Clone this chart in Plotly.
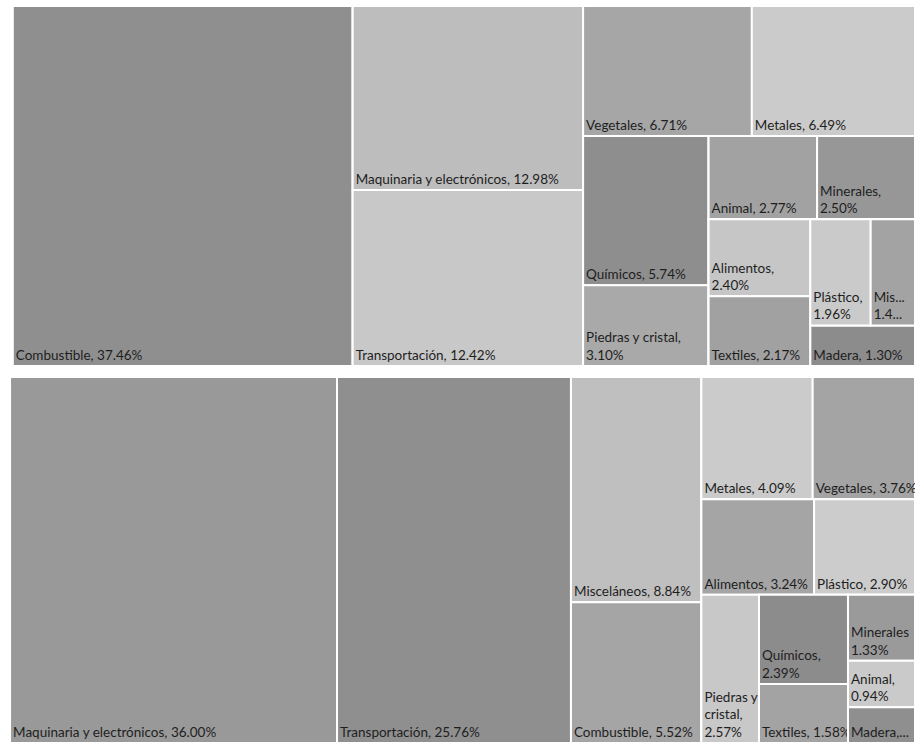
import plotly.graph_objects as go

# ---------------- Top treemap data ----------------
top_labels = ["Combustible", "Maquinaria y electrónicos", "Transportación", "Vegetales", "Metales",
              "Químicos", "Piedras y cristal", "Animal", "Minerales", "Alimentos", "Textiles",
              "Plástico", "Misceláneos", "Madera"]
top_values = [37.46, 12.98, 12.42, 6.71, 6.49, 5.74, 3.10, 2.77, 2.50, 2.40, 2.17, 1.96, 1.44, 1.30]
top_colors = ["#8f8f8f", "#bdbdbd", "#c8c8c8", "#a6a6a6", "#cbcbcb", "#8e8e8e", "#a9a9a9",
              "#a2a2a2", "#979797", "#c6c6c6", "#a1a1a1", "#cacaca", "#a3a3a3", "#8c8c8c"]
top_text = ["Combustible, 37.46%", "Maquinaria y electrónicos, 12.98%", "Transportación, 12.42%",
            "Vegetales, 6.71%", "Metales, 6.49%", "Químicos, 5.74%", "Piedras y cristal,<br>3.10%",
            "Animal, 2.77%", "Minerales,<br>2.50%", "Alimentos,<br>2.40%", "Textiles, 2.17%",
            "Plástico,<br>1.96%", "Mis...<br>1.4...", "Madera, 1.30%"]
# grouping of the tiles (block structure of the reference layout)
top_groups = ["T", "T2", "T3", "T3a", "T3b", "T3b1", "T3b2", "T3b2a", "T3b2b", "T3b2b1", "T3b2b2", "T3b2b2a"]
top_group_parents = ["", "T", "T", "T3", "T3", "T3b", "T3b", "T3b2", "T3b2", "T3b2b", "T3b2b", "T3b2b2"]
top_leaf_parents = ["T", "T2", "T2", "T3a", "T3a", "T3b1", "T3b1", "T3b2a", "T3b2a",
                    "T3b2b1", "T3b2b1", "T3b2b2a", "T3b2b2a", "T3b2b2"]

# ---------------- Bottom treemap data ----------------
bot_labels = ["Maquinaria y electrónicos", "Transportación", "Misceláneos", "Combustible", "Metales",
              "Vegetales", "Alimentos", "Plástico", "Piedras y cristal", "Químicos", "Textiles",
              "Minerales", "Animal", "Madera"]
bot_values = [36.00, 25.76, 8.84, 5.52, 4.09, 3.76, 3.24, 2.90, 2.57, 2.39, 1.58, 1.33, 0.94, 0.72]
bot_colors = ["#999999", "#8f8f8f", "#bfbfbf", "#a5a5a5", "#cbcbcb", "#a4a4a4", "#a5a5a5",
              "#cccccc", "#c8c8c8", "#8c8c8c", "#a3a3a3", "#9a9a9a", "#cacaca", "#8f8f8f"]
bot_text = ["Maquinaria y electrónicos, 36.00%", "Transportación, 25.76%", "Misceláneos, 8.84%",
            "Combustible, 5.52%", "Metales, 4.09%", "Vegetales, 3.76%", "Alimentos, 3.24%",
            "Plástico, 2.90%", "Piedras y<br>cristal,<br>2.57%", "Químicos,<br>2.39%",
            "Textiles, 1.58%", "Minerales<br>1.33%", "Animal,<br>0.94%", "Madera,..."]
bot_groups = ["B", "B3", "B4", "B4a", "B4b", "B4c", "B4c1", "B4c2"]
bot_group_parents = ["", "B", "B", "B4", "B4", "B4", "B4c", "B4c"]
bot_leaf_parents = ["B", "B", "B3", "B3", "B4a", "B4a", "B4b", "B4b", "B4c", "B4c1", "B4c1",
                    "B4c2", "B4c2", "B4c2"]


def ordered_nodes(labels, groups, group_parents, leaf_parents):
    """Depth-first node order; children ordered by their first leaf in the data lists."""
    parent_of = dict(zip(groups, group_parents))
    parent_of.update(dict(zip(labels, leaf_parents)))
    key = {lab: i for i, lab in enumerate(labels)}
    for i, lab in enumerate(labels):
        p = parent_of[lab]
        while p:
            key[p] = min(key.get(p, 1e9), i)
            p = parent_of[p]
    children = {}
    for n, p in parent_of.items():
        children.setdefault(p, []).append(n)
    out = []

    def visit(n):
        out.append(n)
        for c in sorted(children.get(n, []), key=lambda x: key[x]):
            visit(c)

    for r in sorted(children[""], key=lambda x: key[x]):
        visit(r)
    return out, parent_of


def make_tm(labels, values, colors, text, groups, group_parents, leaf_parents, domain):
    order, parent_of = ordered_nodes(labels, groups, group_parents, leaf_parents)
    idx = {lab: i for i, lab in enumerate(labels)}
    ids, lbls, pars, vals, cols, txt = [], [], [], [], [], []
    for n in order:
        ids.append(n)
        pars.append(parent_of[n])
        if n in idx:
            i = idx[n]
            lbls.append(labels[i]); vals.append(values[i]); cols.append(colors[i]); txt.append(text[i])
        else:
            lbls.append(""); vals.append(0); cols.append("#ffffff"); txt.append("")
    return go.Treemap(
        ids=ids,
        labels=lbls,
        parents=pars,
        values=vals,
        text=txt,
        texttemplate="%{text}",
        textposition="bottom left",
        textfont=dict(family="Lato, Open Sans, sans-serif", size=13.5, color="#1e1e1e"),
        marker=dict(colors=cols, line=dict(color="white", width=2),
                    pad=dict(t=0, l=0, r=0, b=0)),
        tiling=dict(packing="slice-dice", pad=0),
        pathbar=dict(visible=False),
        sort=False,
        branchvalues="remainder",
        hoverinfo="label+value",
        domain=domain,
    )


fig = go.Figure()
fig.add_trace(make_tm(top_labels, top_values, top_colors, top_text,
                      top_groups, top_group_parents, top_leaf_parents,
                      dict(x=[0.014, 1.0], y=[1 - 366 / 743, 1 - 6 / 743])))
fig.add_trace(make_tm(bot_labels, bot_values, bot_colors, bot_text,
                      bot_groups, bot_group_parents, bot_leaf_parents,
                      dict(x=[0.011, 1.0], y=[0.0, 1 - 377 / 743])))

fig.update_layout(
    width=915, height=743,
    margin=dict(l=0, r=0, t=0, b=0),
    paper_bgcolor="white",
    uniformtext=dict(minsize=13.5, mode="show"),
    showlegend=False,
)

fig.write_html("out.html", config={"displayModeBar": False},
               post_script="document.body.style.margin='0';")
